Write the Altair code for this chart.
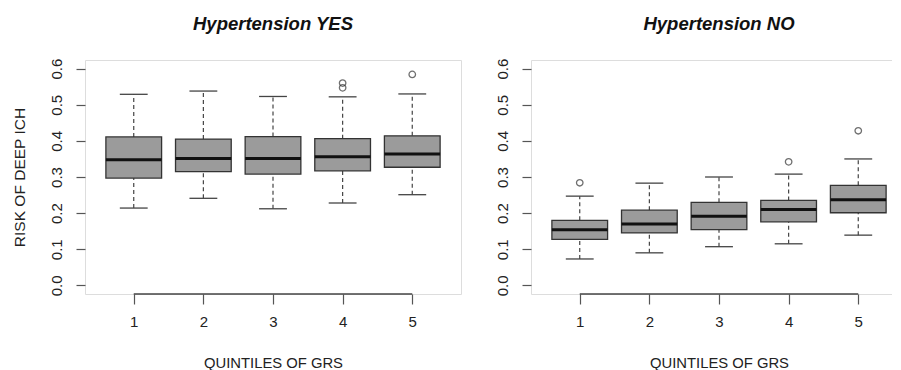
import altair as alt
import pandas as pd

# ---------------- data ----------------
quintiles = [1, 2, 3, 4, 5]
y_ticks = [0.0, 0.1, 0.2, 0.3, 0.4, 0.5, 0.6]

# Hypertension YES
yes_lower = [0.214, 0.241, 0.212, 0.228, 0.251]
yes_q1 = [0.297, 0.315, 0.308, 0.317, 0.327]
yes_median = [0.348, 0.351, 0.351, 0.356, 0.364]
yes_q3 = [0.411, 0.405, 0.412, 0.406, 0.414]
yes_upper = [0.529, 0.538, 0.523, 0.522, 0.530]
yes_out_q = [4, 4, 5]
yes_out_v = [0.560, 0.547, 0.584]

# Hypertension NO
no_lower = [0.073, 0.090, 0.107, 0.115, 0.139]
no_q1 = [0.127, 0.145, 0.154, 0.176, 0.201]
no_median = [0.154, 0.170, 0.191, 0.210, 0.237]
no_q3 = [0.180, 0.208, 0.230, 0.235, 0.277]
no_upper = [0.247, 0.283, 0.300, 0.308, 0.350]
no_out_q = [1, 4, 5]
no_out_v = [0.284, 0.342, 0.428]

FONT = "Liberation Sans"
W, H = 376, 234


def panel(title, lower, q1, med, q3, upper, oq, ov, show_ytitle):
    df = pd.DataFrame({"q": quintiles, "lower": lower, "q1": q1,
                       "median": med, "q3": q3, "upper": upper})
    od = pd.DataFrame({"q": oq, "v": ov})
    xs = alt.Scale(domain=[0.3, 5.7], nice=False, zero=False)
    ys = alt.Scale(domain=[-0.024, 0.624], nice=False, zero=False)
    xaxis = alt.Axis(values=quintiles, format="d", title="QUINTILES OF GRS",
                     domain=False, grid=False, tickSize=10, labelPadding=10,
                     labelFontSize=15, titleFontSize=14.8, titleFontWeight="normal",
                     titleBaseline="alphabetic", titleY=73.5,
                     labelColor="#222", titleColor="#222", tickColor="#555",
                     tickWidth=1.2, labelFont=FONT, titleFont=FONT)
    yargs = dict(values=y_ticks, format=".1f", domain=False, grid=False,
                 tickSize=9, labelPadding=15, labelAngle=270, labelAlign="center",
                 labelBaseline="alphabetic", labelFontSize=15, labelColor="#222",
                 tickColor="#555", tickWidth=1.2, labelFont=FONT)
    if show_ytitle:
        yaxis = alt.Axis(title="RISK OF DEEP ICH", titleAngle=270,
                         titleBaseline="alphabetic", titleX=-61, titleFontSize=15.5,
                         titleFontWeight="normal", titleColor="#222", titleFont=FONT,
                         **yargs)
    else:
        yaxis = alt.Axis(title=None, **yargs)

    def X(f):
        return alt.X(f"{f}:Q", scale=xs, axis=xaxis)

    def Y(f):
        return alt.Y(f"{f}:Q", scale=ys, axis=yaxis)

    base = alt.Chart(df).transform_calculate(
        bl="datum.q - 0.4", br="datum.q + 0.4",
        cl="datum.q - 0.2", cr="datum.q + 0.2")

    whisk_up = base.mark_rule(color="#444", strokeDash=[4, 3], strokeWidth=1.2).encode(
        x=X("q"), y=Y("q3"), y2="upper:Q")
    whisk_lo = base.mark_rule(color="#444", strokeDash=[4, 3], strokeWidth=1.2).encode(
        x=X("q"), y=Y("lower"), y2="q1:Q")
    cap_up = base.mark_rule(color="#444", strokeWidth=1.3).encode(
        x=X("cl"), x2="cr:Q", y=Y("upper"))
    cap_lo = base.mark_rule(color="#444", strokeWidth=1.3).encode(
        x=X("cl"), x2="cr:Q", y=Y("lower"))
    box = base.mark_rect(fill="#9b9b9b", stroke="#333", strokeWidth=1.3).encode(
        x=X("bl"), x2="br:Q", y=Y("q1"), y2="q3:Q")
    med_l = base.mark_rule(color="#111", strokeWidth=3).encode(
        x=X("bl"), x2="br:Q", y=Y("median"))
    outl = alt.Chart(od).mark_point(shape="circle", filled=False, size=42,
                                    color="#333", strokeWidth=1.3).encode(
        x=X("q"), y=Y("v"))
    axline = alt.Chart(pd.DataFrame({"a": [quintiles[0]], "b": [quintiles[-1]]})).mark_rule(
        color="#444", strokeWidth=1.4).encode(x=X("a"), x2="b:Q", y=alt.value(H))

    return alt.layer(whisk_up, whisk_lo, cap_up, cap_lo, box, med_l, outl, axline).properties(
        width=W, height=H,
        title=alt.TitleParams(title, fontSize=18.5, fontStyle="italic", fontWeight="bold",
                              font=FONT, color="#111", baseline="alphabetic",
                              offset=10, anchor="middle"))


left = panel("Hypertension YES", yes_lower, yes_q1, yes_median, yes_q3, yes_upper,
             yes_out_q, yes_out_v, True)
right = panel("Hypertension NO", no_lower, no_q1, no_median, no_q3, no_upper,
              no_out_q, no_out_v, False)

chart = alt.hconcat(left, right, spacing=32).properties(
    padding={"left": 3, "top": 6, "right": -16, "bottom": 0}
).configure_view(stroke="#777", strokeWidth=1.3).configure(font=FONT)

chart.save("out.html", embed_options={"renderer": "svg", "actions": False})
